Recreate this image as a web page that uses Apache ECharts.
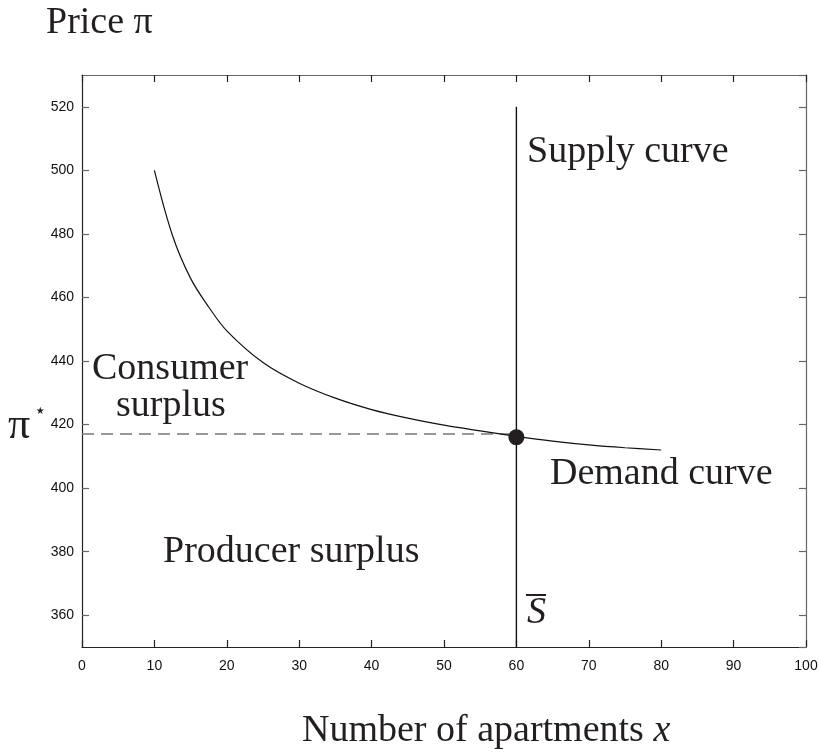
<!DOCTYPE html>
<html>
<head>
<meta charset="utf-8">
<script src="https://cdn.jsdelivr.net/npm/echarts@6/dist/echarts.min.js"></script>
<style>
  html, body { margin: 0; padding: 0; background: #fff; }
  #chart { width: 818px; height: 754px; }
</style>
</head>
<body>
<div id="chart"></div>
<script>
// demand curve
const demandX = [10, 12.5, 15, 17.5, 20, 25, 30, 35, 40, 45, 50, 55, 60, 65, 70, 75, 80]
const demandY = [500, 479.5, 466, 457, 449.5, 439.5, 433, 428.3, 424.7, 422, 419.8, 418, 416.3, 414.8, 413.6, 412.7, 412]

const supplyX = 60
const supplyTop = 520
const priceStar = 417
const equilibrium = [60, 416]

const xTicks = [0, 10, 20, 30, 40, 50, 60, 70, 80, 90, 100]
const yTicks = [360, 380, 400, 420, 440, 460, 480, 500, 520]

const serif = '"Liberation Serif", "DejaVu Serif", serif'
const sans = '"Liberation Sans", Arial, sans-serif'

const chart = echarts.init(document.getElementById('chart'))

function label(text, left, top, size) {
  return {
    type: 'text',
    left: left,
    top: top,
    style: { text: text, font: size + 'px ' + serif, fill: '#231f20' }
  }
}

function yAxisDef(pos, showLabel) {
  return {
    type: 'value', min: 350, max: 530, splitNumber: 9, position: pos,
    axisLine: { show: true, onZero: false, lineStyle: { color: pos == 'left' ? '#222' : '#666', width: 1.2 } },
    axisTick: { show: true, inside: true, length: 7, lineStyle: { color: '#666', width: 1.2 } },
    axisLabel: {
      show: showLabel, color: '#111', fontFamily: sans, fontSize: 14, margin: 8,
      showMinLabel: false, showMaxLabel: false,
      formatter: v => (yTicks.indexOf(v) >= 0 ? String(v) : '')
    },
    splitLine: { show: false }
  }
}

function xAxisDef(pos, showLabel) {
  return {
    type: 'value', min: 0, max: 100, interval: 10, position: pos,
    axisLine: { show: true, onZero: false, lineStyle: { color: pos == 'bottom' ? '#222' : '#666', width: 1.2 } },
    axisTick: { show: true, inside: true, length: 7, lineStyle: { color: '#222', width: 1.2 } },
    axisLabel: {
      show: showLabel, color: '#111', fontFamily: sans, fontSize: 14, margin: 12,
      formatter: v => (xTicks.indexOf(v) >= 0 ? String(v) : '')
    },
    splitLine: { show: false }
  }
}

chart.setOption({
  animation: false,
  grid: { left: 82, right: 12, top: 75, bottom: 107, outerBoundsMode: 'none' },
  xAxis: [xAxisDef('bottom', true), xAxisDef('top', false)],
  yAxis: [yAxisDef('left', true), yAxisDef('right', false)],
  series: [
    {
      name: 'price star',
      type: 'line',
      data: [[0, priceStar], [supplyX, priceStar]],
      showSymbol: false,
      lineStyle: { color: '#777', width: 1.5, type: [12, 7] },
      z: 2
    },
    {
      name: 'demand',
      type: 'line',
      data: demandX.map((x, i) => [x, demandY[i]]),
      smooth: 0.35,
      showSymbol: false,
      lineStyle: { color: '#111', width: 1.2 },
      z: 3
    },
    {
      name: 'supply',
      type: 'line',
      data: [[supplyX, 350], [supplyX, supplyTop]],
      showSymbol: false,
      lineStyle: { color: '#111', width: 1.4 },
      z: 3
    },
    {
      name: 'equilibrium',
      type: 'scatter',
      data: [equilibrium],
      symbolSize: 16,
      itemStyle: { color: '#231f20', opacity: 1 },
      z: 4
    }
  ],
  graphic: [
    label('Price π', 46, 4, 38),
    label('Supply curve', 527, 133, 38),
    label('Consumer', 92, 350, 38),
    label('surplus', 116, 387, 38),
    label('π', 8, 404, 44),
    label('⋆', 34, 402, 20),
    label('Demand curve', 550, 455, 38),
    label('Producer surplus', 163, 533, 38),
    { type: 'text', left: 527, top: 594, style: { text: 'S', font: 'italic 38px ' + serif, fill: '#231f20' } },
    { type: 'rect', shape: { x: 526, y: 594, width: 20, height: 2 }, style: { fill: '#231f20' } },
    {
      type: 'text', left: 302, top: 712,
      style: {
        text: '{n|Number of apartments }{i|x}',
        rich: {
          n: { font: '38px ' + serif, fill: '#231f20' },
          i: { font: 'italic 38px ' + serif, fill: '#231f20' }
        }
      }
    }
  ]
})
</script>
</body>
</html>
